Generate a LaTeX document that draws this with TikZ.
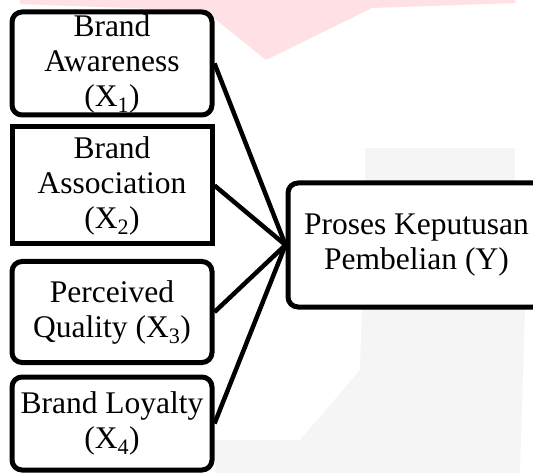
\documentclass[tikz,border=0pt]{standalone}
\usepackage{fontspec}
\setmainfont{Liberation Serif}
\usepackage{tikz}
\definecolor{wmpink}{RGB}{255,224,228}
\definecolor{wmgray}{RGB}{245,245,245}
\tikzset{var/.style={draw, line width=5pt, fill=white, rounded corners=10pt, align=center,
    font=\fontsize{31.5}{35}\selectfont, inner sep=0pt, minimum width=200pt},
  sqvar/.style={var, sharp corners}}

\begin{document}
\begin{tikzpicture}[x=1pt, y=-1pt]
\useasboundingbox (0,0) rectangle (533,473);
% faint background marks
\fill[wmpink] (20,0) -- (515,0) -- (515,3) -- (372,8) -- (266,60) -- (205,11) -- (20,4) -- cycle;
\fill[wmgray] (365,148) -- (515,148) -- (515,183) -- (365,183) -- cycle;
\fill[wmgray] (362,307) -- (525,307) -- (520,473) -- (215,473) -- (215,440) -- (300,440) -- (360,370) -- cycle;

\node[var, minimum height=103pt]   (aw) at (112,63.5)  {Brand\\Awareness\\(X\textsubscript{1})};
\node[sqvar, minimum height=117pt] (as) at (112,185.5) {Brand\\Association\\(X\textsubscript{2})};
\node[var, minimum height=101pt]   (pq) at (112,312)   {Perceived\\Quality (X\textsubscript{3})};
\node[var, minimum height=93pt]    (bl) at (112,423.5) {Brand Loyalty\\(X\textsubscript{4})};
\node[var, minimum width=257pt, minimum height=124pt] (y) at (416.5,245) {Proses Keputusan\\Pembelian (Y)};

\foreach \i in {aw,as,pq,bl}
{
  \draw[line width=4.5pt] (\i.east) to (y.west);
}
\end{tikzpicture}
\end{document}
